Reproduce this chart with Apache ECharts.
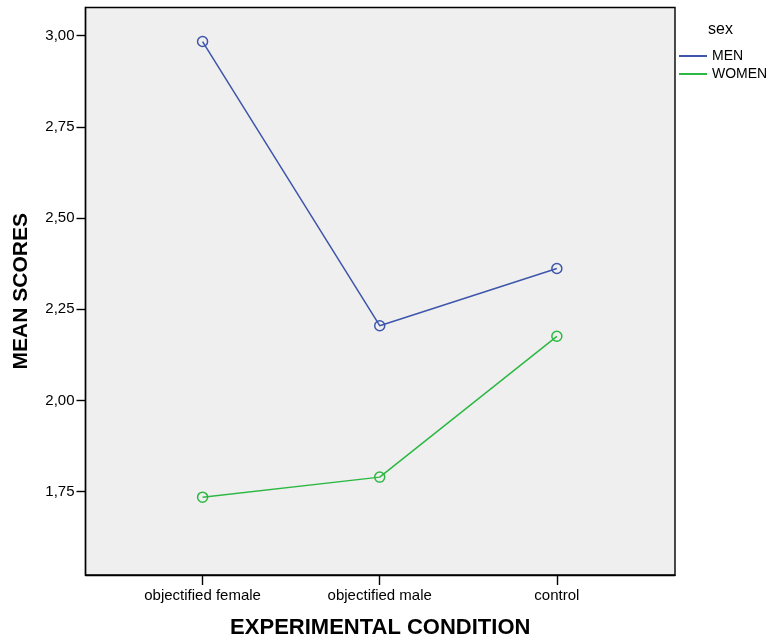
<!DOCTYPE html>
<html>
<head>
<meta charset="utf-8">
<script src="https://cdn.jsdelivr.net/npm/echarts@6/dist/echarts.min.js"></script>
<style>
html,body{margin:0;padding:0;background:#fff;}
#chart{width:772px;height:643px;}
</style>
</head>
<body>
<div id="chart"></div>
<script>
var categories = ['objectified female', 'objectified male', 'control'];
var menValues = [2.984, 2.205, 2.362];
var womenValues = [1.735, 1.790, 2.176];
var yTicks = [1.75, 2.00, 2.25, 2.50, 2.75, 3.00];
var seriesNames = ['MEN', 'WOMEN'];
var seriesColors = ['#3d56ab', '#2db843'];

function pairs(vals){ return vals.map(function(v,i){ return [i, v]; }); }

var chart = echarts.init(document.getElementById('chart'));
var font = 'Liberation Sans, Arial, sans-serif';
function lineSeries(idx, vals){
  return { name: seriesNames[idx], type: 'line', data: pairs(vals), symbol: 'circle', symbolSize: 10,
    itemStyle: { color: 'rgba(0,0,0,0)', borderColor: seriesColors[idx], borderWidth: 1.5 },
    lineStyle: { color: seriesColors[idx], width: 1.5 } };
}
chart.setOption({
  animation: false,
  backgroundColor: '#ffffff',
  title: {
    text: 'sex', left: 703, top: 17,
    textStyle: { fontFamily: font, fontSize: 16, fontWeight: 'normal', color: '#000' }
  },
  legend: {
    orient: 'vertical', left: 674, top: 44,
    itemWidth: 28, itemHeight: 2, itemGap: 4,
    icon: 'rect',
    data: seriesNames.map(function(n, i){ return { name: n, itemStyle: { color: seriesColors[i], borderWidth: 0 } }; }),
    textStyle: { fontFamily: font, fontSize: 14, color: '#000' }
  },
  grid: { left: 85.5, top: 7.5, right: 97, bottom: 68, outerBoundsMode: 'none', containLabel: false, show: true, backgroundColor: '#efefef', borderColor: '#000', borderWidth: 1.4 },
  xAxis: {
    type: 'value', min: -0.661, max: 2.667,
    name: 'EXPERIMENTAL CONDITION', nameLocation: 'middle', nameGap: 42,
    nameTextStyle: { fontFamily: font, fontSize: 22, fontWeight: 'bold', color: '#000' },
    splitLine: { show: false },
    axisLine: { show: true, onZero: false, lineStyle: { color: '#000', width: 1.4 } },
    axisTick: { show: true, customValues: [0,1,2], length: 10, lineStyle: { color: '#000', width: 1.4 } },
    axisLabel: { customValues: [0,1,2], formatter: function(v){ return categories[Math.round(v)] || ''; }, fontFamily: font, fontSize: 15, color: '#000', margin: 13 }
  },
  yAxis: {
    type: 'value', min: 1.5217, max: 3.0773,
    name: 'MEAN SCORES', nameLocation: 'middle', nameGap: 54,
    nameTextStyle: { fontFamily: font, fontSize: 21, fontWeight: 'bold', color: '#000' },
    splitLine: { show: false },
    axisLine: { show: true, onZero: false, lineStyle: { color: '#000', width: 1.4 } },
    axisTick: { show: true, customValues: yTicks, length: 9, lineStyle: { color: '#000', width: 1.4 } },
    axisLabel: { customValues: yTicks, formatter: function(v){ return v.toFixed(2).replace('.', ','); }, fontFamily: font, fontSize: 15, color: '#000', margin: 11 }
  },
  series: [ lineSeries(0, menValues), lineSeries(1, womenValues) ]
});
</script>
</body>
</html>
